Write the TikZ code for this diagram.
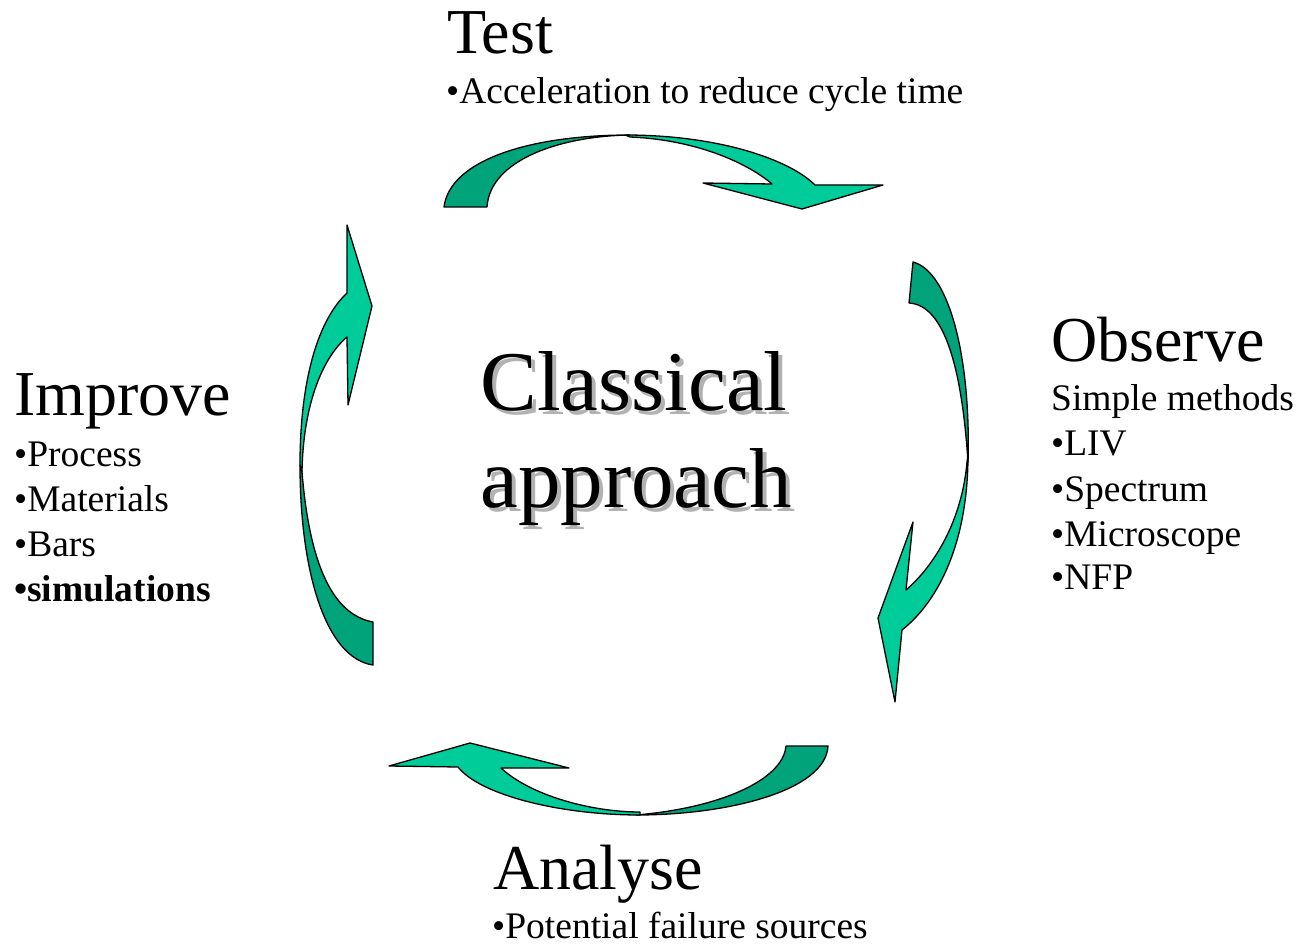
\documentclass[tikz,border=0pt]{standalone}
\usepackage{fontspec}
\setmainfont{Liberation Serif}
\definecolor{lightg}{RGB}{0,204,153}
\definecolor{darkg}{RGB}{0,163,122}
\definecolor{shadowgray}{RGB}{178,178,178}
\begin{document}
\begin{tikzpicture}[x=1pt,y=-1pt,line join=round,
  lightpart/.style={fill=lightg,draw=black,line width=1.3pt},
  darkpart/.style={fill=darkg,draw=black,line width=1.3pt},
  titletext/.style={anchor=base west,inner sep=0pt,font=\fontsize{64}{64}\selectfont},
  itemtext/.style={anchor=base west,inner sep=0pt,font=\fontsize{37.5}{37.5}\selectfont},
  bigtext/.style={anchor=base,inner sep=0pt,font=\fontsize{85}{85}\selectfont},
  bigshadow/.style={bigtext,text=shadowgray}]
\useasboundingbox (0,0) rectangle (1299,944);

% ---- top arrow (Test) ----
\path[darkpart] (444,207) .. controls (450,160) and (530,135) .. (630,135)
  .. controls (560,136) and (490,160) .. (487,207) -- cycle;
\path[lightpart] (625,135) .. controls (720,135) and (790,160) .. (815,185)
  -- (883,185) -- (802,209) -- (703,183) -- (772,184)
  .. controls (750,165) and (700,140) .. (630,137) -- cycle;

% ---- right arrow (Observe) ----
\path[darkpart] (913,262) .. controls (950,272) and (971,360) .. (968,462)
  .. controls (962,370) and (945,305) .. (909,303) -- cycle;
\path[lightpart] (968,455) .. controls (968,540) and (940,600) .. (902,630)
  -- (895,702) -- (878,618) -- (913,522) -- (906,590)
  .. controls (935,565) and (962,520) .. (967,462) -- cycle;

% ---- bottom arrow (Analyse) ----
\path[darkpart] (828,746) .. controls (826,790) and (730,815) .. (636,815)
  .. controls (720,808) and (783,780) .. (786,746) -- cycle;
\path[lightpart] (640,815) .. controls (560,815) and (480,795) .. (458,767)
  -- (389,766) -- (470,743) -- (569,768) -- (501,768)
  .. controls (530,795) and (590,812) .. (640,812) -- cycle;

% ---- left arrow (Improve) ----
\path[darkpart] (373,665) .. controls (325,658) and (300,570) .. (300,465)
  -- (302,472) .. controls (310,570) and (335,615) .. (373,622) -- cycle;
\path[lightpart] (300,465) .. controls (300,380) and (318,320) .. (347,293)
  -- (347,225) -- (372,306) -- (348,405) -- (347,337)
  .. controls (320,360) and (303,410) .. (302,472) -- cycle;

% ---- centre text ----
\node[bigshadow] (cls) at (638,414) {Classical};
\node[bigshadow] (aps) at (640,511) {approach};
\node[bigtext] (cl) at (634,410) {Classical};
\node[bigtext] (ap) at (636,507) {approach};

% ---- Test ----
\node[titletext] (test) at (447,54) {Test};
\node[itemtext] (acc) at (446,104) {•Acceleration to reduce cycle time};

% ---- Observe ----
\node[titletext] (obs) at (1051,361) {Observe};
\node[itemtext] (sm) at (1051,410) {Simple methods};
\node[itemtext] (liv) at (1051,455) {•LIV};
\node[itemtext] (spec) at (1051,501) {•Spectrum};
\node[itemtext] (mic) at (1051,546) {•Microscope};
\node[itemtext] (nfp) at (1051,589) {•NFP};

% ---- Improve ----
\node[titletext] (imp) at (14,415) {Improve};
\node[itemtext] (proc) at (14,466) {•Process};
\node[itemtext] (mat) at (14,511) {•Materials};
\node[itemtext] (bars) at (14,556) {•Bars};
\node[itemtext] (sim) at (14,601) {\bfseries •simulations};

% ---- Analyse ----
\node[titletext] (ana) at (493,889) {Analyse};
\node[itemtext] (pot) at (492,938) {•Potential failure sources};
\end{tikzpicture}
\end{document}
